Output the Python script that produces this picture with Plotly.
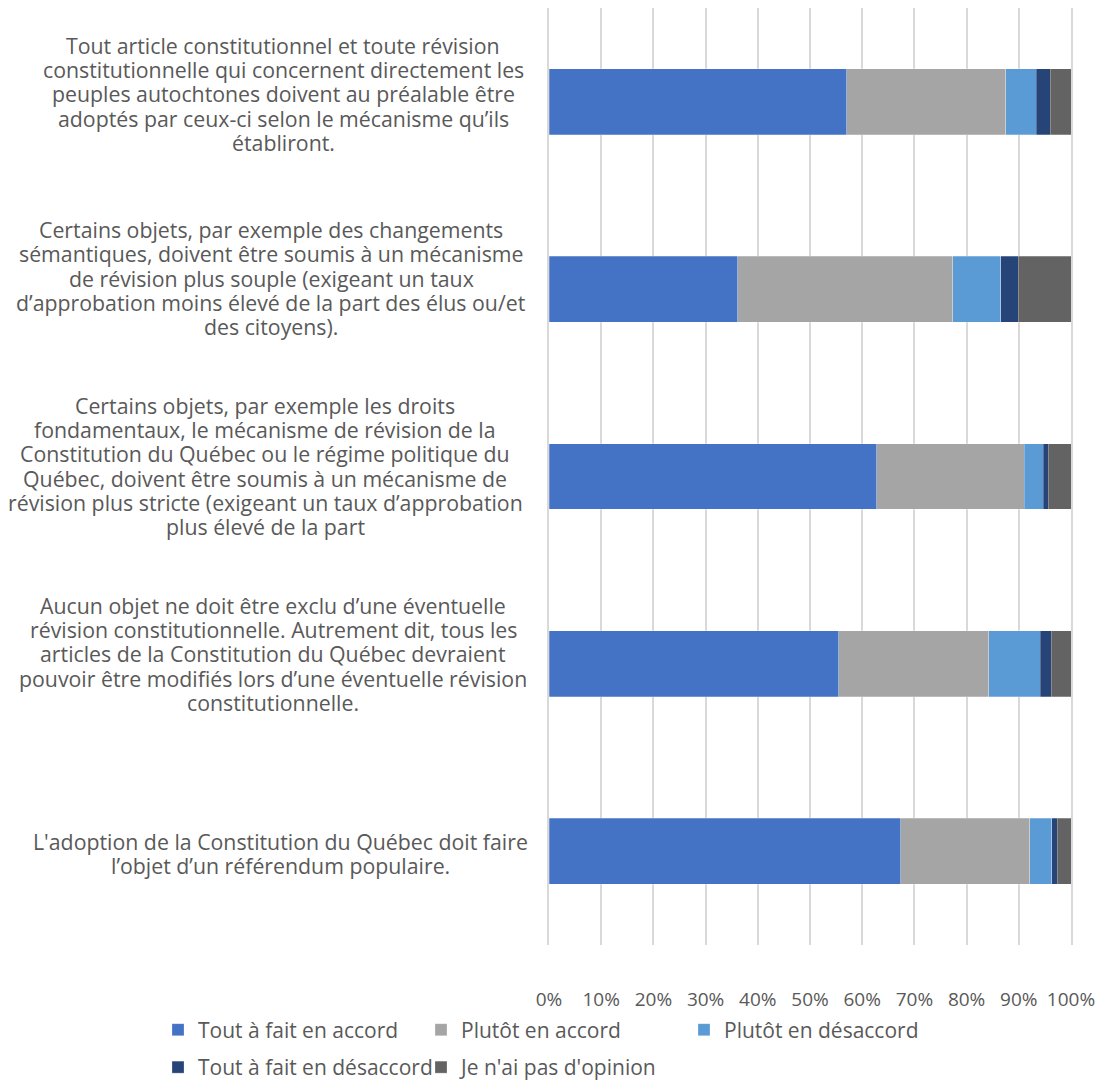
import plotly.graph_objects as go

categories = [
    "Tout article constitutionnel et toute révision<br>constitutionnelle qui concernent directement les<br>peuples autochtones doivent au préalable être<br>adoptés par ceux-ci selon le mécanisme qu’ils<br>établiront.",
    "Certains objets, par exemple des changements<br>sémantiques, doivent être soumis à un mécanisme<br>de révision plus souple (exigeant un taux<br>d’approbation moins élevé de la part des élus ou/et<br>des citoyens).",
    "Certains objets, par exemple les droits<br>fondamentaux, le mécanisme de révision de la<br>Constitution du Québec ou le régime politique du<br>Québec, doivent être soumis à un mécanisme de<br>révision plus stricte (exigeant un taux d’approbation<br>plus élevé de la part",
    "Aucun objet ne doit être exclu d’une éventuelle<br>révision constitutionnelle. Autrement dit, tous les<br>articles de la Constitution du Québec devraient<br>pouvoir être modifiés lors d’une éventuelle révision<br>constitutionnelle.",
    "L'adoption de la Constitution du Québec doit faire<br>l’objet d’un référendum populaire.",
]
cat_ids = ["Q1", "Q2", "Q3", "Q4", "Q5"]

series_names = [
    "Tout à fait en accord",
    "Plutôt en accord",
    "Plutôt en désaccord",
    "Tout à fait en désaccord",
    "Je n'ai pas d'opinion",
]
tout_accord = [57.0, 36.2, 62.8, 55.5, 67.4]
plutot_accord = [30.5, 41.1, 28.2, 28.7, 24.7]
plutot_desaccord = [5.8, 9.2, 3.7, 9.9, 4.2]
tout_desaccord = [2.7, 3.4, 0.9, 2.1, 1.1]
sans_opinion = [4.0, 10.1, 4.4, 3.8, 2.6]

tick_vals = [0, 10, 20, 30, 40, 50, 60, 70, 80, 90, 100]
tick_text = ["0%", "10%", "20%", "30%", "40%", "50%", "60%", "70%", "80%", "90%", "100%"]

colors = ["#4472C4", "#A5A5A5", "#5B9BD5", "#264478", "#636363"]
values = [tout_accord, plutot_accord, plutot_desaccord, tout_desaccord, sans_opinion]
legend_ids = ["legend", "legend", "legend", "legend2", "legend2"]

FONT = "Open Sans"
TXT = "#595959"
GRID = "#D9D9D9"
LABEL_FS = 21.3
LINE_H = 24.3

W, H = 1096, 1080
PLOT_L = 541
PLOT_H = 937
PLOT_W = 522

fig = go.Figure()
for name, vals, col, lg in zip(series_names, values, colors, legend_ids):
    fig.add_trace(go.Bar(
        y=cat_ids, x=vals, name=name, orientation="h",
        marker=dict(color=col, line=dict(color="rgba(255,255,255,0.5)", width=0.5)),
        legend=lg,
    ))

# category labels: one annotation per line (tight line spacing), lines centred on a common axis
block_centers = [275, 263, 257, 265, 272]  # px from figure left
yshifts = [8, 11, 10.5, 10, -2.5]
for cid, label, cx, ys in zip(cat_ids, categories, block_centers, yshifts):
    lines = label.split("<br>")
    n = len(lines)
    for i, line in enumerate(lines):
        fig.add_annotation(
            x=0, xref="paper", y=cid, yref="y",
            text=line, showarrow=False, xanchor="center", yanchor="middle",
            xshift=cx - PLOT_L, yshift=ys + ((n - 1) / 2 - i) * LINE_H,
            font=dict(family=FONT, size=LABEL_FS, color=TXT),
        )

fig.update_layout(
    width=W, height=H,
    margin=dict(l=PLOT_L, r=W - PLOT_L - PLOT_W, t=0, b=H - PLOT_H, pad=0),
    barmode="stack", bargap=0.648,
    plot_bgcolor="white", paper_bgcolor="white",
    font=dict(family=FONT, size=19, color=TXT),
    xaxis=dict(
        range=[0, 100], tickvals=tick_vals, ticktext=tick_text,
        showgrid=True, gridcolor=GRID, gridwidth=1.5,
        zeroline=False, showline=False,
        ticks="outside", ticklen=37, tickcolor="rgba(0,0,0,0)",
        tickfont=dict(family=FONT, size=19, color=TXT),
    ),
    yaxis=dict(
        categoryorder="array", categoryarray=cat_ids,
        range=[4.5, -0.5], showticklabels=False, showgrid=False,
        zeroline=False, showline=True, mirror=True,
        linecolor=GRID, linewidth=1.5, ticks="",
    ),
    legend=dict(
        orientation="h", traceorder="normal",
        x=(150 - PLOT_L) / PLOT_W, y=(PLOT_H - 1022) / PLOT_H,
        xanchor="left", yanchor="middle",
        entrywidth=218, font=dict(family=FONT, size=21, color=TXT),
        bgcolor="rgba(0,0,0,0)",
    ),
    legend2=dict(
        orientation="h", traceorder="normal",
        x=(150 - PLOT_L) / PLOT_W, y=(PLOT_H - H) / PLOT_H,
        xanchor="left", yanchor="bottom",
        entrywidth=218, font=dict(family=FONT, size=21, color=TXT),
        bgcolor="rgba(0,0,0,0)",
    ),
)

fig.write_html("out.html")
